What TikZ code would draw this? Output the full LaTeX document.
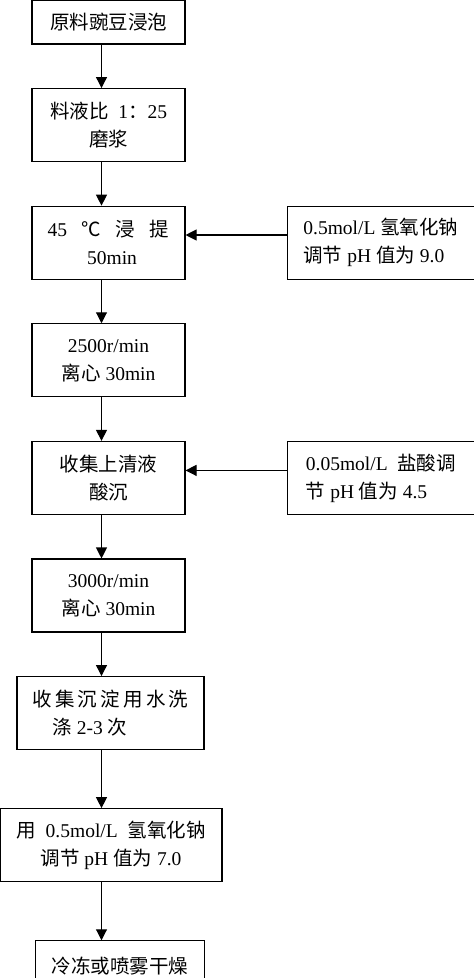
\documentclass[tikz,border=0pt]{standalone}
\usepackage{fontspec}
\setmainfont{Liberation Serif}
\newfontfamily\cjk{Noto Sans CJK SC}
\newcommand{\zh}[1]{{\cjk #1}}
\usetikzlibrary{positioning}
\usetikzlibrary{arrows.meta}

\begin{document}
\begin{tikzpicture}[node distance=43.5pt, minimum height=73pt, line width=1.1pt, >={Triangle[length=11pt,width=11pt]}, font=\fontsize{19.5}{28}\selectfont]
			\useasboundingbox (0,0) rectangle (474pt,-978pt);
			\coordinate (spine) at (101.5pt,0);
			\node[draw, minimum width=153pt, minimum height=43.5pt] (soak) at (108.5pt,-22.25pt) {\zh{原料豌豆浸泡}};
			\node[draw, minimum width=153pt, align=center, below=of soak] (grind) {\zh{料液比}\ \ 1\zh{：}25\\\zh{磨浆}};
			\node[draw, minimum width=153pt, align=center, below=of grind] (extract) {45\hspace{14pt}\zh{℃}\hspace{15pt}\zh{浸}\hspace{15pt}\zh{提}\\\hspace{7pt}50min};
			\node[draw, minimum width=186.6pt, align=left, right=101.5pt of extract] (naoh) {0.5mol/L \zh{氢氧化钠}\\\zh{调节} pH \zh{值为} 9.0};
			\node[draw, minimum width=153pt, align=center, below=of extract] (spinA) {2500r/min\\\zh{离心} 30min};
			\node[draw, minimum width=153pt, align=center, below=of spinA] (acid) {\zh{收集上清液}\\\zh{酸沉}};
			\node[draw, minimum width=186.6pt, align=left, right=101.5pt of acid] (hcl) {0.05mol/L\ \ \zh{盐酸调}\\\zh{节} pH \zh{值为} 4.5};
			\node[draw, minimum width=153pt, align=center, below=of acid] (spinB) {3000r/min\\\zh{离心} 30min};
			\node[draw, minimum width=187pt, align=left, below=of spinB, xshift=2pt] (wash) {\zh{收\,集\,沉\,淀\,用\,水\,洗}\\\hspace*{20pt}\zh{涤} 2-3 \zh{次}};
			\node[draw, minimum width=222pt, align=center, below=58pt of wash, xshift=0.5pt] (adjust) {\zh{用}\ \ 0.5mol/L\ \ \zh{氢氧化钠}\\\zh{调节} pH \zh{值为} 7.0};
			\node[draw, minimum width=169.3pt, minimum height=50pt, below=58pt of adjust, xshift=9pt] (dry) {\zh{冷冻或喷雾干燥}};
			\path[draw, ->] (soak.south -| spine) -- (grind.north -| spine);
			\path[draw, ->] (grind.south -| spine) -- (extract.north -| spine);
			\path[draw, ->] (extract.south -| spine) -- (spinA.north -| spine);
			\path[draw, ->] (spinA.south -| spine) -- (acid.north -| spine);
			\path[draw, ->] (acid.south -| spine) -- (spinB.north -| spine);
			\path[draw, ->] (spinB.south -| spine) -- (wash.north -| spine);
			\path[draw, ->] (wash.south -| spine) -- (adjust.north -| spine);
			\path[draw, ->] (adjust.south -| spine) -- (dry.north -| spine);
			\path[draw, ->] ([yshift=7.7pt]naoh.west) -- ([yshift=7.7pt]naoh.west -| extract.east);
			\path[draw, ->] ([yshift=7.5pt]hcl.west) -- ([yshift=7.5pt]hcl.west -| acid.east);
		\end{tikzpicture}
\end{document}
